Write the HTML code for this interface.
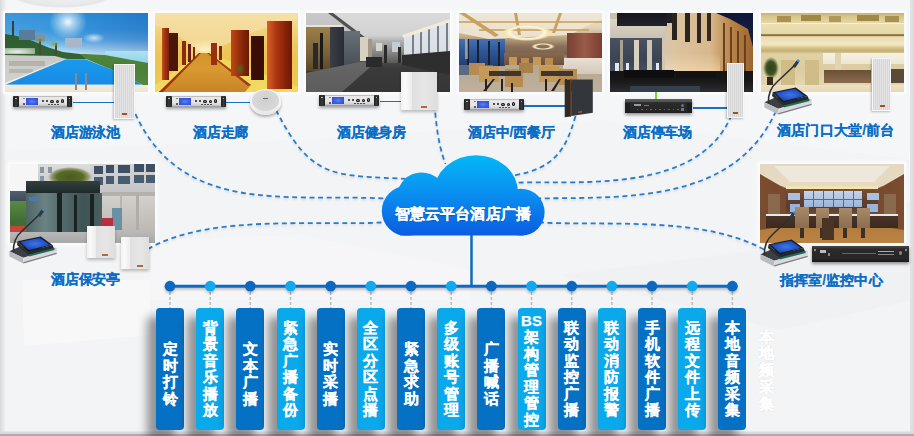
<!DOCTYPE html>
<html><head><meta charset="utf-8">
<style>
*{margin:0;padding:0;box-sizing:border-box}
html,body{width:914px;height:436px;overflow:hidden}
body{position:relative;background:#f3f4f6;font-family:"Liberation Sans",sans-serif}
.a{position:absolute}
i{position:absolute;display:block}
.ph{position:absolute;overflow:hidden;box-shadow:0 0 0 2px #fbfbfc,0 0 4px 2px rgba(255,255,255,.8)}
.amp{position:absolute;background:linear-gradient(#9a9a9a,#e8e8e8 10%,#e4e4e4 60%,#cfcfcf 85%,#8a8a8a);box-shadow:0 2px 3px rgba(0,0,0,.35)}
.cspk{position:absolute;background:repeating-linear-gradient(90deg,#d6d6d6 0 1px,#e4e4e4 1px 2px);border:1.5px solid #f6f6f6;box-shadow:-1px 1px 2px rgba(0,0,0,.25)}
.bspk{position:absolute;box-shadow:0 2px 3px rgba(0,0,0,.25)}
.lbl{position:absolute;font-weight:bold;font-size:14px;line-height:14px;color:#0b6ec6;white-space:nowrap;letter-spacing:-0.2px;-webkit-text-stroke:0.15px #0b6ec6}
.box{position:absolute;top:308px;width:28px;height:121.5px;border-radius:4px;color:#fff;font-weight:bold;font-size:15px;line-height:16.5px;text-align:center;-webkit-text-stroke:0.25px #fff;box-shadow:-9px 9px 10px rgba(0,0,0,.4)}
.box div{position:absolute;left:0;width:100%}
.d{background:#0571c4}
.l{background:#0aa9ec}
</style></head><body>
<svg class="a" style="left:0;top:0" width="914" height="436" viewBox="0 0 914 436">
<defs><linearGradient id="lg" x1="0" x2="1" y1="0" y2="0"><stop offset="0" stop-color="#d8d9dc"/><stop offset="1" stop-color="#f3f4f6"/></linearGradient></defs>
<rect width="914" height="436" fill="#f3f4f6"/>
<polygon points="0,0 914,0 914,160 600,120 300,140 0,150" fill="#f5f6f8"/>
<polygon points="22,280 150,280 150,335 24,346" fill="#f8f8f9"/>
<polygon points="150,240 300,235 470,270 470,300 150,300" fill="#f6f6f8"/>
<polygon points="560,275 760,250 914,200 914,300 780,330" fill="#f0f1f3"/>
<radialGradient id="tl" cx=".5" cy=".5" r=".5"><stop offset="0" stop-color="#000" stop-opacity=".02"/><stop offset=".75" stop-color="#000" stop-opacity=".05"/><stop offset=".9" stop-color="#000" stop-opacity=".07"/><stop offset="1" stop-color="#000" stop-opacity="0"/></radialGradient><ellipse cx="62" cy="-6" rx="52" ry="14" fill="url(#tl)"/>
<rect x="0" y="0" width="6" height="436" fill="url(#lg)"/>
<rect x="910" y="0" width="4" height="436" fill="#e2e3e6"/><rect x="911.5" y="0" width="2.5" height="436" fill="#dcdde0"/>
<rect x="0" y="431.5" width="914" height="2.5" fill="#dadadc"/>
<rect x="0" y="434" width="914" height="2" fill="#acacae"/>
</svg>
<div class="ph" id="p1" style="left:5px;top:13px;width:143px;height:79px"><i style="left:0px;top:0px;width:143px;height:79px;background:linear-gradient(180deg,#2c8ed8 0%,#3898dc 22%,#5aa8e2 34%,#94caee 44%,#cce6f4 52%);"></i><i style="left:0px;top:0px;width:143px;height:45px;background:linear-gradient(90deg,rgba(255,255,255,.08),rgba(255,255,255,0) 40%,rgba(0,50,150,.22));"></i><i style="left:44px;top:-8px;width:38px;height:34px;background:radial-gradient(closest-side,rgba(255,255,255,.95),rgba(255,255,255,.6) 30%,rgba(255,255,255,0));"></i><i style="left:78px;top:20px;width:22px;height:10px;background:radial-gradient(closest-side,rgba(255,255,255,.7),rgba(255,255,255,0));"></i><i style="left:100px;top:38px;width:43px;height:20px;background:linear-gradient(#b0e0f0,#7ccce6);"></i><i style="left:0;top:0;width:100%;height:100%;background:linear-gradient(#2a5a2c,#3a6a38);clip-path:polygon(0px 21px,12px 23px,28px 28px,42px 34px,58px 39px,75px 41px,90px 42px,90px 46px,0px 46px);"></i><i style="left:14px;top:17px;width:16px;height:10px;background:#5a7c9c;"></i><i style="left:30px;top:20px;width:10px;height:8px;background:#7a94ac;"></i><i style="left:60px;top:25px;width:17px;height:9px;background:#a8b8c8;"></i><i style="left:7px;top:8px;width:2px;height:15px;background:#3a4030;"></i><i style="left:34px;top:26px;width:2px;height:20px;background:#4a4a30;"></i><i style="left:50px;top:30px;width:2px;height:14px;background:#4a4a30;"></i><i style="left:30px;top:24px;width:10px;height:6px;background:radial-gradient(closest-side,#7a9a40,rgba(120,150,60,0));"></i><i style="left:44px;top:28px;width:10px;height:6px;background:radial-gradient(closest-side,#8aaa40,rgba(120,150,60,0));"></i><i style="left:0;top:0;width:100%;height:100%;background:linear-gradient(#5a9448,#4a8038 70%,#5a8a40);clip-path:polygon(75px 41px,100px 42px,143px 50px,143px 78px,137px 71.5px,110px 58px,81px 46px);"></i><i style="left:0;top:0;width:100%;height:100%;background:linear-gradient(#e4e4e0,#c8c8c4 50%,#d4d4d0);clip-path:polygon(0px 42px,50px 43px,61px 46px,0px 70px);"></i><i style="left:0px;top:35px;width:30px;height:6px;background:radial-gradient(ellipse at 40% 60%,rgba(248,248,244,.95),rgba(240,240,236,.4));"></i><i style="left:4px;top:48px;width:36px;height:5px;background:rgba(150,150,140,.45);"></i><i style="left:4px;top:56px;width:24px;height:4px;background:rgba(150,150,140,.4);"></i><i style="left:0;top:0;width:100%;height:100%;background:#f2f0ea;clip-path:polygon(61px 45.5px,62px 46.5px,1px 71.5px,0px 70px);"></i><i style="left:0;top:0;width:100%;height:100%;background:linear-gradient(#2eb2f6,#1ca2f0 40%,#1890e8 80%,#1a84dc);clip-path:polygon(60.6px 46.2px,80.3px 46.2px,110px 58px,137px 71.5px,1px 71.5px);"></i><i style="left:0px;top:71.5px;width:143px;height:8px;background:linear-gradient(#f2ece0,#ebe3d2);"></i><i style="left:70px;top:60px;width:1.6px;height:17px;background:#8a8a8a;"></i><i style="left:80px;top:60px;width:1.6px;height:17px;background:#8a8a8a;"></i></div><div class="ph" id="p2" style="left:155px;top:13px;width:143px;height:79px"><i style="left:0px;top:0px;width:143px;height:79px;background:linear-gradient(180deg,#f4dc98 0%,#f2d47c 20%,#eec860 40%,#ecc450 60%,#f0cc48 100%);"></i><i style="left:0;top:0;width:100%;height:100%;background:linear-gradient(#f6e0a4,#f2d490 50%,#eecc80);clip-path:polygon(0px 0px,143px 0px,143px 6px,100px 18px,56px 38px,44px 38px,20px 20px,0px 12px);"></i><i style="left:30px;top:26px;width:40px;height:22px;background:radial-gradient(closest-side,rgba(255,245,200,.9),rgba(255,240,190,0));"></i><i style="left:0;top:0;width:100%;height:100%;background:linear-gradient(#f0d050,#f2da60);clip-path:polygon(54px 40px,143px 74px,143px 79px,0px 79px,0px 72px,44px 40px);"></i><i style="left:0;top:0;width:100%;height:100%;background:linear-gradient(#c88020,#d09028 40%,#d89a30 70%,#c88428);clip-path:polygon(44px 40px,54px 40px,96px 72px,90px 79px,4px 79px);"></i><i style="left:0;top:0;width:100%;height:100%;background:#a03010;clip-path:polygon(44px 40px,46px 40px,8px 79px,4px 79px);"></i><i style="left:0;top:0;width:100%;height:100%;background:#a83818;clip-path:polygon(52px 40px,54px 40px,96px 72px,93px 73px);"></i><i style="left:7px;top:15px;width:7px;height:52px;background:linear-gradient(90deg,#c85020,#9a3010 50%,#7a2008);"></i><i style="left:14px;top:20px;width:9px;height:38px;background:#4a160a;"></i><i style="left:27px;top:28px;width:4px;height:24px;background:#8a2a10;"></i><i style="left:33px;top:31px;width:3px;height:18px;background:#6a2010;"></i><i style="left:38px;top:34px;width:2px;height:12px;background:#7a2810;"></i><i style="left:56px;top:30px;width:6px;height:22px;background:#9a3010;"></i><i style="left:64px;top:33px;width:3px;height:14px;background:#7a2810;"></i><i style="left:76px;top:17px;width:18px;height:46px;background:linear-gradient(90deg,#c04818,#8a2808 60%,#6a1a06);"></i><i style="left:96px;top:23px;width:13px;height:44px;background:#3a0e06;"></i><i style="left:112px;top:8px;width:25px;height:68px;background:linear-gradient(90deg,#d86028,#b03812 35%,#8a2408 70%,#6a1806);"></i><i style="left:80px;top:50px;width:10px;height:12px;background:radial-gradient(closest-side,#4a6a20,rgba(74,106,32,0));"></i></div><div class="ph" id="p3" style="left:306px;top:13px;width:144px;height:79px"><i style="left:0px;top:0px;width:144px;height:79px;background:linear-gradient(180deg,#dadada 0%,#d2d2d2 28%,#b0b0b0 36%,#8c8c8c 50%,#4a4a4a 61%,#3a3a3a 70%,#363636 100%);"></i><i style="left:0;top:0;width:100%;height:100%;background:linear-gradient(#c8c8c8,#b0b0b0);clip-path:polygon(0px 0px,24px 0px,56px 26px,40px 26px,0px 14px);"></i><i style="left:0;top:0;width:100%;height:100%;background:#505050;clip-path:polygon(22px 0px,27px 0px,60px 25px,56px 26px);"></i><i style="left:0px;top:12px;width:36px;height:2px;background:#e8e4d8;"></i><i style="left:0px;top:14px;width:24px;height:44px;background:linear-gradient(#9a8048,#7a6238 60%,#5a4828);"></i><i style="left:24px;top:14px;width:14px;height:46px;background:linear-gradient(90deg,#3a3e44,#2a2e34);"></i><i style="left:38px;top:18px;width:16px;height:34px;background:linear-gradient(#6a7078,#4a5058);"></i><i style="left:54px;top:24px;width:8px;height:24px;background:#d8d0c0;"></i><i style="left:62px;top:26px;width:4px;height:20px;background:#a09888;"></i><i style="left:66px;top:27px;width:34px;height:23px;background:linear-gradient(#b4b4b4,#8a8a8a 50%,#5a5a5a);"></i><i style="left:70px;top:30px;width:6px;height:8px;background:#d8d4c8;"></i><i style="left:86px;top:29px;width:8px;height:10px;background:#c8ccd0;"></i><i style="left:78px;top:32px;width:3px;height:18px;background:#2a2a2a;"></i><i style="left:92px;top:34px;width:3px;height:16px;background:#2a2a2a;"></i><i style="left:0;top:0;width:100%;height:100%;background:linear-gradient(#e4e8ee,#d0d6de);clip-path:polygon(98px 24px,144px 8px,144px 50px,98px 48px);"></i><i style="left:106px;top:20px;width:1.5px;height:30px;background:#7a808a;"></i><i style="left:114px;top:18px;width:1.5px;height:32px;background:#7a808a;"></i><i style="left:122px;top:15px;width:1.5px;height:35px;background:#7a808a;"></i><i style="left:131px;top:12px;width:1.5px;height:38px;background:#7a808a;"></i><i style="left:140px;top:10px;width:1.5px;height:40px;background:#7a808a;"></i><i style="left:0;top:0;width:100%;height:100%;background:#f0ecd8;clip-path:polygon(96px 22px,144px 6px,144px 9px,98px 25px);"></i><i style="left:0;top:0;width:100%;height:100%;background:linear-gradient(#2a2a2a,#303030);clip-path:polygon(96px 42px,144px 38px,144px 62px,96px 52px);"></i><i style="left:0;top:0;width:100%;height:100%;background:linear-gradient(#787878,#5c5c5c);clip-path:polygon(0px 60px,54px 49px,70px 49px,36px 79px,0px 79px);"></i><i style="left:14px;top:20px;width:3px;height:36px;background:#1a1a1a;"></i><i style="left:7px;top:30px;width:5px;height:26px;background:#2a2a2a;"></i><i style="left:60px;top:44px;width:16px;height:10px;background:#2a2a2a;"></i></div><div class="ph" id="p4" style="left:459px;top:13px;width:143px;height:79px"><i style="left:0px;top:0px;width:143px;height:79px;background:linear-gradient(180deg,#ece2cc 0%,#e2d4b8 18%,#c4ac88 30%,#8a7058 42%,#7a6450 52%,#b4a690 60%,#beb09c 100%);"></i><i style="left:0;top:0;width:100%;height:100%;background:linear-gradient(#eee6d6,#e4d6bc);clip-path:polygon(0px 0px,143px 0px,143px 6px,110px 22px,30px 26px,0px 20px);"></i><i style="left:0;top:0;width:100%;height:100%;background:#c8a060;clip-path:polygon(0px 0px,6px 0px,40px 22px,36px 24px);"></i><i style="left:0;top:0;width:100%;height:100%;background:#c8a060;clip-path:polygon(55px 0px,58px 0px,62px 22px,59px 22px);"></i><i style="left:0;top:0;width:100%;height:100%;background:#c8a060;clip-path:polygon(100px 0px,103px 0px,96px 20px,93px 20px);"></i><i style="left:0px;top:8px;width:143px;height:1.5px;background:rgba(200,160,96,.8);"></i><i style="left:20px;top:16px;width:110px;height:1.5px;background:rgba(200,160,96,.8);"></i><i style="left:43px;top:11px;width:50px;height:17px;background:radial-gradient(closest-side,rgba(90,70,50,.0) 55%,#fff6d8 72%,#f4e4b0 85%,rgba(240,220,170,0));"></i><i style="left:72px;top:30px;width:24px;height:7px;background:radial-gradient(closest-side,rgba(90,70,50,0) 45%,#fff0c8 70%,rgba(240,220,170,0));"></i><i style="left:0px;top:26px;width:46px;height:27px;background:linear-gradient(#4272b8,#2c5494 50%,#243e70);"></i><i style="left:8px;top:26px;width:2px;height:27px;background:#1a2030;"></i><i style="left:18px;top:27px;width:2px;height:26px;background:#1a2030;"></i><i style="left:29px;top:28px;width:2px;height:25px;background:#1a2030;"></i><i style="left:39px;top:29px;width:2px;height:24px;background:#1a2030;"></i><i style="left:6px;top:26px;width:3px;height:20px;background:rgba(255,220,160,.5);"></i><i style="left:108px;top:20px;width:35px;height:26px;background:linear-gradient(90deg,#7a4032,#9a5a48 50%,#7a3e30);"></i><i style="left:104px;top:45px;width:39px;height:16px;background:linear-gradient(#e8e0d4,#d4c8b8);"></i><i style="left:0px;top:52px;width:34px;height:10px;background:#5a6a84;"></i><i style="left:45px;top:40px;width:60px;height:12px;background:linear-gradient(#8a6a4a,#6a5040);"></i><i style="left:50px;top:44px;width:8px;height:8px;background:#c49a5a;"></i><i style="left:62px;top:45px;width:8px;height:7px;background:#b88c50;"></i><i style="left:74px;top:44px;width:8px;height:8px;background:#c49a5a;"></i><i style="left:86px;top:45px;width:8px;height:7px;background:#b88c50;"></i><i style="left:10px;top:50px;width:16px;height:12px;background:#b88c50;"></i><i style="left:20px;top:53px;width:20px;height:16px;background:#c49a5a;"></i><i style="left:46px;top:56px;width:18px;height:18px;background:#b88c50;"></i><i style="left:80px;top:53px;width:20px;height:16px;background:#c49a5a;"></i><i style="left:100px;top:56px;width:18px;height:16px;background:#b88c50;"></i><i style="left:60px;top:50px;width:14px;height:10px;background:#a8804a;"></i><i style="left:30px;top:58px;width:32px;height:5px;background:#3e3630;"></i><i style="left:82px;top:58px;width:32px;height:5px;background:#3e3630;"></i><i style="left:26px;top:66px;width:2px;height:12px;background:#2a2018;"></i><i style="left:42px;top:66px;width:2px;height:12px;background:#2a2018;"></i><i style="left:52px;top:70px;width:2px;height:9px;background:#2a2018;"></i><i style="left:86px;top:66px;width:2px;height:12px;background:#2a2018;"></i><i style="left:106px;top:66px;width:2px;height:12px;background:#2a2018;"></i><i style="left:112px;top:70px;width:2px;height:8px;background:#2a2018;"></i><i style="left:0;top:0;width:100%;height:100%;background:#2a2018;clip-path:polygon(24px 78px,34px 66px,36px 66px,27px 78px);"></i><i style="left:0;top:0;width:100%;height:100%;background:#2a2018;clip-path:polygon(92px 78px,100px 66px,102px 66px,95px 78px);"></i></div><div class="ph" id="p5" style="left:610px;top:13px;width:143px;height:79px"><i style="left:0px;top:0px;width:143px;height:79px;background:#2a2828;"></i><i style="left:0px;top:0px;width:143px;height:60px;background:linear-gradient(90deg,#c8c0b0 0%,#d0c6b4 35%,#dcc4a0 45%,#d8b88c 70%,#b88448 85%,#9a6630 100%);"></i><i style="left:0px;top:6px;width:55px;height:20px;background:linear-gradient(#dcd6c8,#c8c0b0);"></i><i style="left:7px;top:0px;width:50px;height:13px;background:linear-gradient(#16161e,#22222a);"></i><i style="left:57px;top:0px;width:6px;height:10px;background:#1e1e26;"></i><i style="left:0px;top:25px;width:52px;height:35px;background:linear-gradient(#4a5262,#3a4452 60%,#4a5060);"></i><i style="left:24px;top:27px;width:5px;height:33px;background:#d8d0c0;"></i><i style="left:37px;top:27px;width:5px;height:33px;background:#ccc4b4;"></i><i style="left:10px;top:27px;width:3px;height:33px;background:#a8a090;"></i><i style="left:5px;top:50px;width:4px;height:8px;background:#e0e8f0;"></i><i style="left:16px;top:50px;width:3px;height:8px;background:#e0e8f0;"></i><i style="left:46px;top:50px;width:3px;height:8px;background:#e0e8f0;"></i><i style="left:62px;top:0px;width:5px;height:27px;background:#2a2420;"></i><i style="left:75px;top:0px;width:5px;height:29px;background:#2a2420;"></i><i style="left:87px;top:0px;width:4px;height:30px;background:#2e2620;"></i><i style="left:97px;top:0px;width:4px;height:28px;background:#342820;"></i><i style="left:55px;top:40px;width:55px;height:20px;background:linear-gradient(rgba(255,235,200,0),rgba(255,230,190,.5));"></i><i style="left:113px;top:10px;width:1.5px;height:50px;background:#6a4020;"></i><i style="left:120px;top:14px;width:1.5px;height:46px;background:#6a4020;"></i><i style="left:127px;top:18px;width:1.5px;height:42px;background:#6a4020;"></i><i style="left:134px;top:22px;width:1.5px;height:38px;background:#6a4020;"></i><i style="left:0;top:0;width:100%;height:100%;background:linear-gradient(#101838,#1a2458);clip-path:polygon(106px 0px,143px 0px,143px 34px,138px 16px,120px 6px);"></i><i style="left:0px;top:58px;width:143px;height:21px;background:linear-gradient(#141414,#181818 45%,#2c2c32);"></i><i style="left:14px;top:57px;width:50px;height:8px;background:#0e0e0e;"></i><i style="left:66px;top:58px;width:40px;height:7px;background:#121212;"></i><i style="left:20px;top:73px;width:70px;height:6px;background:#34404c;"></i></div><div class="ph" id="p6" style="left:761px;top:13px;width:143px;height:79px"><i style="left:0px;top:0px;width:143px;height:79px;background:linear-gradient(180deg,#c8b070 0%,#d8c488 4%,#e6d6a4 12%,#ece0b4 15%,#e6d6a6 26%,#8a7040 27.5%,#8a7040 28.5%,#ecdcb0 30%,#f2e6c2 40%,#d8c48c 44%,#c4b074 48%,#e0d2a4 52%,#dccca0 70%,#e6dab6 100%);"></i><i style="left:16px;top:3px;width:14px;height:6px;background:#a89050;"></i><i style="left:40px;top:2px;width:20px;height:6px;background:#a08848;"></i><i style="left:68px;top:3px;width:12px;height:6px;background:#b09858;"></i><i style="left:96px;top:2px;width:22px;height:6px;background:#a08848;"></i><i style="left:124px;top:3px;width:14px;height:6px;background:#a89050;"></i><i style="left:0px;top:10px;width:143px;height:1px;background:rgba(255,250,230,.7);"></i><i style="left:62px;top:40px;width:81px;height:11px;background:linear-gradient(#f6f2e6,#ece6d2);"></i><i style="left:74px;top:40px;width:6px;height:30px;background:#e0d4b4;"></i><i style="left:63px;top:57px;width:47px;height:13px;background:linear-gradient(#6a5038,#8a6c4c);"></i><i style="left:118px;top:56px;width:25px;height:14px;background:#5a4a38;"></i><i style="left:20px;top:47px;width:14px;height:27px;background:#d0bc88;"></i><i style="left:44px;top:47px;width:14px;height:27px;background:#d0bc88;"></i><i style="left:2px;top:44px;width:16px;height:22px;background:radial-gradient(closest-side,#2e4018,#3e5424 60%,rgba(70,90,40,0));"></i><i style="left:6px;top:64px;width:6px;height:8px;background:#3a2a1a;"></i><i style="left:0px;top:72px;width:143px;height:7px;background:linear-gradient(#ece2c4,#e4d8b4);"></i></div><div class="ph" id="p7" style="left:10px;top:164px;width:145px;height:79px"><i style="left:0px;top:0px;width:145px;height:79px;background:linear-gradient(180deg,#d4d4d4 0%,#cacac8 40%,#bcbab6 70%,#aaaaaa 100%);"></i><i style="left:0px;top:0px;width:28px;height:27px;background:#f6f6f6;"></i><i style="left:0px;top:27px;width:16px;height:11px;background:linear-gradient(#506070,#3a4a58);"></i><i style="left:0px;top:37px;width:16px;height:30px;background:linear-gradient(#5a8a44,#3e6c32 70%,#4a6a30);"></i><i style="left:0px;top:62px;width:16px;height:6px;background:#c04838;"></i><i style="left:28px;top:0px;width:54px;height:22px;background:linear-gradient(#dcdcdc,#cccccc);"></i><i style="left:30px;top:3px;width:4px;height:6px;background:#8a96a4;"></i><i style="left:38px;top:3px;width:4px;height:6px;background:#8a96a4;"></i><i style="left:30px;top:12px;width:4px;height:6px;background:#8a96a4;"></i><i style="left:80px;top:0px;width:65px;height:30px;background:linear-gradient(#d4d4d4,#c4c4c4);"></i><i style="left:84px;top:2px;width:9px;height:8px;background:#3e5064;"></i><i style="left:96px;top:1px;width:8px;height:8px;background:#3e5064;"></i><i style="left:108px;top:1px;width:12px;height:8px;background:#3e5064;"></i><i style="left:124px;top:0px;width:10px;height:8px;background:#3e5064;"></i><i style="left:136px;top:0px;width:9px;height:8px;background:#3e5064;"></i><i style="left:84px;top:13px;width:9px;height:8px;background:#4a5c70;"></i><i style="left:96px;top:12px;width:8px;height:8px;background:#4a5c70;"></i><i style="left:108px;top:12px;width:12px;height:8px;background:#4a5c70;"></i><i style="left:124px;top:11px;width:10px;height:8px;background:#4a5c70;"></i><i style="left:136px;top:11px;width:9px;height:8px;background:#4a5c70;"></i><i style="left:38px;top:3px;width:44px;height:20px;background:radial-gradient(closest-side,#4a5a20,#5a6a28 60%,rgba(106,122,52,.6) 85%,rgba(106,122,52,0));"></i><i style="left:16px;top:17px;width:74px;height:12px;background:linear-gradient(#34403e,#1e2a2a);"></i><i style="left:16px;top:29px;width:76px;height:46px;background:linear-gradient(90deg,#4e6666,#6a8282 25%,#52686a 50%,#3e5454 75%,#4a5e5e);"></i><i style="left:19px;top:33px;width:10px;height:4px;background:#4a7ab0;"></i><i style="left:47px;top:29px;width:5px;height:47px;background:#1a2222;"></i><i style="left:64px;top:31px;width:3px;height:44px;background:#1a2222;"></i><i style="left:80px;top:30px;width:4px;height:45px;background:#1a2222;"></i><i style="left:92px;top:28px;width:53px;height:40px;background:linear-gradient(#d6d2ce,#c6c2be 60%,#bcb8b4);"></i><i style="left:92px;top:28px;width:53px;height:4px;background:#b4b0ac;"></i><i style="left:126px;top:30px;width:3px;height:36px;background:#b0aca8;"></i><i style="left:110px;top:30px;width:2px;height:36px;background:#b8b4b0;"></i><i style="left:102px;top:44px;width:10px;height:22px;background:#6892a4;"></i><i style="left:91px;top:54px;width:12px;height:8px;background:#b83040;"></i><i style="left:0px;top:68px;width:145px;height:11px;background:linear-gradient(#b8b8b8,#a8a8a8);"></i></div><div class="ph" id="p8" style="left:760px;top:164px;width:144px;height:79px"><i style="left:0px;top:0px;width:144px;height:79px;background:linear-gradient(180deg,#e6d8bc 0%,#eadcc0 20%,#f0dca4 27%,#7a5036 31%,#64402c 45%,#5a3c2c 55%,#6a4a30 62%,#b07838 70%,#bc8444 100%);"></i><i style="left:0;top:0;width:100%;height:100%;background:linear-gradient(#e4d8c0,#ece0c8);clip-path:polygon(0px 0px,144px 0px,144px 8px,118px 24px,26px 24px,0px 8px);"></i><i style="left:0;top:0;width:100%;height:100%;background:#eee8dc;clip-path:polygon(14px 2px,130px 2px,114px 18px,30px 18px);"></i><i style="left:0;top:0;width:100%;height:100%;background:#f4e4b0;clip-path:polygon(26px 22px,118px 22px,118px 25px,26px 25px);"></i><i style="left:0;top:0;width:100%;height:100%;background:linear-gradient(90deg,#7a4c30,#6a4028);clip-path:polygon(0px 10px,26px 25px,26px 62px,0px 66px);"></i><i style="left:0;top:0;width:100%;height:100%;background:linear-gradient(270deg,#7a4c30,#6a4028);clip-path:polygon(144px 10px,118px 25px,118px 62px,144px 66px);"></i><i style="left:8px;top:30px;width:12px;height:20px;background:#8a6a4c;"></i><i style="left:124px;top:30px;width:12px;height:20px;background:#8a6a4c;"></i><i style="left:44px;top:27px;width:58px;height:16px;background:linear-gradient(#c4d4ea,#9cb4d8);"></i><i style="left:53px;top:27px;width:1px;height:16px;background:#5a6a80;"></i><i style="left:63px;top:27px;width:1px;height:16px;background:#5a6a80;"></i><i style="left:73px;top:27px;width:1px;height:16px;background:#5a6a80;"></i><i style="left:83px;top:27px;width:1px;height:16px;background:#5a6a80;"></i><i style="left:93px;top:27px;width:1px;height:16px;background:#5a6a80;"></i><i style="left:44px;top:35px;width:58px;height:1px;background:#5a6a80;"></i><i style="left:28px;top:29px;width:12px;height:7px;background:#a8c0e0;"></i><i style="left:30px;top:40px;width:10px;height:8px;background:#98b4dc;"></i><i style="left:107px;top:29px;width:12px;height:7px;background:#a8c0e0;"></i><i style="left:107px;top:40px;width:11px;height:8px;background:#98b4dc;"></i><i style="left:6px;top:50px;width:132px;height:2px;background:#e8e8e8;"></i><i style="left:6px;top:52px;width:132px;height:12px;background:linear-gradient(#4a3426,#3a2a20);"></i><i style="left:35px;top:43px;width:14px;height:21px;background:linear-gradient(#a88a68,#8a6c50);"></i><i style="left:56px;top:44px;width:13px;height:20px;background:linear-gradient(#a88a68,#8a6c50);"></i><i style="left:79px;top:44px;width:13px;height:20px;background:linear-gradient(#a88a68,#8a6c50);"></i><i style="left:97px;top:44px;width:13px;height:20px;background:linear-gradient(#a88a68,#8a6c50);"></i><i style="left:40px;top:64px;width:4px;height:10px;background:#3a3028;"></i><i style="left:60px;top:64px;width:4px;height:10px;background:#3a3028;"></i><i style="left:83px;top:64px;width:4px;height:10px;background:#3a3028;"></i><i style="left:101px;top:64px;width:4px;height:10px;background:#3a3028;"></i><i style="left:62px;top:54px;width:12px;height:22px;background:#4a3424;"></i></div>
<svg class="a" style="left:0;top:0" width="914" height="436" viewBox="0 0 914 436"><defs><filter id="ls" x="-5%" y="-5%" width="110%" height="110%"><feDropShadow dx="0" dy="1.5" stdDeviation="1" flood-color="#000" flood-opacity=".12"/></filter></defs><g fill="none" stroke="#2a7cc8" stroke-width="1.8" stroke-dasharray="5 3.6" filter="url(#ls)">
<path d="M132.0 106.0 C176.5 216.9 286.3 193.5 384.0 198.5"/>
<path d="M276.0 110.0 C311.6 179.8 332.1 175.0 409.0 179.0"/>
<path d="M434.4 104.0 C436.3 124.7 438.1 144.4 445.5 164.0"/>
<path d="M148.0 249.0 C208.3 213.9 316.1 226.1 383.0 222.4"/>
<path d="M575.5 116.0 C565.2 152.5 553.1 168.1 514.0 175.5"/>
<path d="M731.5 115.0 C699.6 192.7 584.1 181.1 518.0 182.6"/>
<path d="M776.0 111.0 C733.8 204.6 622.3 196.9 536.0 198.5"/>
<path d="M764.0 249.5 C701.5 215.8 608.1 226.0 540.0 222.5"/>
</g></svg>
<div class="amp" style="left:13px;top:96px;width:59px;height:11px">
<i style="left:0;top:0;width:5.5px;height:11px;background:linear-gradient(90deg,#1e1e1e,#3a3a3a 50%,#1e1e1e);border-radius:1px"></i>
<i style="right:0;top:0;width:5.5px;height:11px;background:linear-gradient(90deg,#1e1e1e,#3a3a3a 50%,#1e1e1e);border-radius:1px"></i>
<i style="left:2px;top:1.5px;width:1.5px;height:1.5px;background:#ccc;border-radius:50%"></i>
<i style="right:2px;top:1.5px;width:1.5px;height:1.5px;background:#ccc;border-radius:50%"></i>
<i style="left:13px;top:2px;width:12px;height:6.5px;background:radial-gradient(ellipse at 50% 50%,#5a80f0,#3a5ee6 50%,#2a4ad0)"></i>
<i style="left:9.5px;top:2px;width:2px;height:1px;background:#888"></i>
<i style="left:9.5px;top:7px;width:2px;height:2px;background:#333;border-radius:50%"></i>
<i style="left:28.8px;top:4.0px;width:2.4px;height:2.4px;border-radius:50%;background:radial-gradient(circle,#777 0 25%,#1a1a1a 45%)"></i><i style="left:32.8px;top:4.0px;width:2.4px;height:2.4px;border-radius:50%;background:radial-gradient(circle,#777 0 25%,#1a1a1a 45%)"></i><i style="left:37.4px;top:3.6px;width:3.2px;height:3.2px;border-radius:50%;background:radial-gradient(circle,#777 0 25%,#1a1a1a 45%)"></i><i style="left:42.9px;top:3.6px;width:3.2px;height:3.2px;border-radius:50%;background:radial-gradient(circle,#777 0 25%,#1a1a1a 45%)"></i><i style="left:47.8px;top:3.4px;width:3.6px;height:3.6px;border-radius:50%;background:radial-gradient(circle,#777 0 25%,#1a1a1a 45%)"></i>
<i style="left:35.0px;top:7.8px;width:2px;height:1.6px;border-radius:50%;background:#333"></i><i style="left:38.0px;top:7.8px;width:2px;height:1.6px;border-radius:50%;background:#333"></i><i style="left:41.0px;top:7.8px;width:2px;height:1.6px;border-radius:50%;background:#333"></i><i style="left:44.0px;top:7.8px;width:2px;height:1.6px;border-radius:50%;background:#333"></i>
</div>
<div class="amp" style="left:166px;top:96px;width:60px;height:11px">
<i style="left:0;top:0;width:5.5px;height:11px;background:linear-gradient(90deg,#1e1e1e,#3a3a3a 50%,#1e1e1e);border-radius:1px"></i>
<i style="right:0;top:0;width:5.5px;height:11px;background:linear-gradient(90deg,#1e1e1e,#3a3a3a 50%,#1e1e1e);border-radius:1px"></i>
<i style="left:2px;top:1.5px;width:1.5px;height:1.5px;background:#ccc;border-radius:50%"></i>
<i style="right:2px;top:1.5px;width:1.5px;height:1.5px;background:#ccc;border-radius:50%"></i>
<i style="left:13px;top:2px;width:12px;height:6.5px;background:radial-gradient(ellipse at 50% 50%,#5a80f0,#3a5ee6 50%,#2a4ad0)"></i>
<i style="left:9.5px;top:2px;width:2px;height:1px;background:#888"></i>
<i style="left:9.5px;top:7px;width:2px;height:2px;background:#333;border-radius:50%"></i>
<i style="left:28.8px;top:4.0px;width:2.4px;height:2.4px;border-radius:50%;background:radial-gradient(circle,#777 0 25%,#1a1a1a 45%)"></i><i style="left:32.8px;top:4.0px;width:2.4px;height:2.4px;border-radius:50%;background:radial-gradient(circle,#777 0 25%,#1a1a1a 45%)"></i><i style="left:37.4px;top:3.6px;width:3.2px;height:3.2px;border-radius:50%;background:radial-gradient(circle,#777 0 25%,#1a1a1a 45%)"></i><i style="left:42.9px;top:3.6px;width:3.2px;height:3.2px;border-radius:50%;background:radial-gradient(circle,#777 0 25%,#1a1a1a 45%)"></i><i style="left:47.8px;top:3.4px;width:3.6px;height:3.6px;border-radius:50%;background:radial-gradient(circle,#777 0 25%,#1a1a1a 45%)"></i>
<i style="left:35.0px;top:7.8px;width:2px;height:1.6px;border-radius:50%;background:#333"></i><i style="left:38.0px;top:7.8px;width:2px;height:1.6px;border-radius:50%;background:#333"></i><i style="left:41.0px;top:7.8px;width:2px;height:1.6px;border-radius:50%;background:#333"></i><i style="left:44.0px;top:7.8px;width:2px;height:1.6px;border-radius:50%;background:#333"></i>
</div>
<div class="amp" style="left:319px;top:95px;width:60px;height:11px">
<i style="left:0;top:0;width:5.5px;height:11px;background:linear-gradient(90deg,#1e1e1e,#3a3a3a 50%,#1e1e1e);border-radius:1px"></i>
<i style="right:0;top:0;width:5.5px;height:11px;background:linear-gradient(90deg,#1e1e1e,#3a3a3a 50%,#1e1e1e);border-radius:1px"></i>
<i style="left:2px;top:1.5px;width:1.5px;height:1.5px;background:#ccc;border-radius:50%"></i>
<i style="right:2px;top:1.5px;width:1.5px;height:1.5px;background:#ccc;border-radius:50%"></i>
<i style="left:13px;top:2px;width:12px;height:6.5px;background:radial-gradient(ellipse at 50% 50%,#5a80f0,#3a5ee6 50%,#2a4ad0)"></i>
<i style="left:9.5px;top:2px;width:2px;height:1px;background:#888"></i>
<i style="left:9.5px;top:7px;width:2px;height:2px;background:#333;border-radius:50%"></i>
<i style="left:28.8px;top:4.0px;width:2.4px;height:2.4px;border-radius:50%;background:radial-gradient(circle,#777 0 25%,#1a1a1a 45%)"></i><i style="left:32.8px;top:4.0px;width:2.4px;height:2.4px;border-radius:50%;background:radial-gradient(circle,#777 0 25%,#1a1a1a 45%)"></i><i style="left:37.4px;top:3.6px;width:3.2px;height:3.2px;border-radius:50%;background:radial-gradient(circle,#777 0 25%,#1a1a1a 45%)"></i><i style="left:42.9px;top:3.6px;width:3.2px;height:3.2px;border-radius:50%;background:radial-gradient(circle,#777 0 25%,#1a1a1a 45%)"></i><i style="left:47.8px;top:3.4px;width:3.6px;height:3.6px;border-radius:50%;background:radial-gradient(circle,#777 0 25%,#1a1a1a 45%)"></i>
<i style="left:35.0px;top:7.8px;width:2px;height:1.6px;border-radius:50%;background:#333"></i><i style="left:38.0px;top:7.8px;width:2px;height:1.6px;border-radius:50%;background:#333"></i><i style="left:41.0px;top:7.8px;width:2px;height:1.6px;border-radius:50%;background:#333"></i><i style="left:44.0px;top:7.8px;width:2px;height:1.6px;border-radius:50%;background:#333"></i>
</div>
<div class="amp" style="left:464px;top:99px;width:60px;height:11px">
<i style="left:0;top:0;width:5.5px;height:11px;background:linear-gradient(90deg,#1e1e1e,#3a3a3a 50%,#1e1e1e);border-radius:1px"></i>
<i style="right:0;top:0;width:5.5px;height:11px;background:linear-gradient(90deg,#1e1e1e,#3a3a3a 50%,#1e1e1e);border-radius:1px"></i>
<i style="left:2px;top:1.5px;width:1.5px;height:1.5px;background:#ccc;border-radius:50%"></i>
<i style="right:2px;top:1.5px;width:1.5px;height:1.5px;background:#ccc;border-radius:50%"></i>
<i style="left:13px;top:2px;width:12px;height:6.5px;background:radial-gradient(ellipse at 50% 50%,#5a80f0,#3a5ee6 50%,#2a4ad0)"></i>
<i style="left:9.5px;top:2px;width:2px;height:1px;background:#888"></i>
<i style="left:9.5px;top:7px;width:2px;height:2px;background:#333;border-radius:50%"></i>
<i style="left:28.8px;top:4.0px;width:2.4px;height:2.4px;border-radius:50%;background:radial-gradient(circle,#777 0 25%,#1a1a1a 45%)"></i><i style="left:32.8px;top:4.0px;width:2.4px;height:2.4px;border-radius:50%;background:radial-gradient(circle,#777 0 25%,#1a1a1a 45%)"></i><i style="left:37.4px;top:3.6px;width:3.2px;height:3.2px;border-radius:50%;background:radial-gradient(circle,#777 0 25%,#1a1a1a 45%)"></i><i style="left:42.9px;top:3.6px;width:3.2px;height:3.2px;border-radius:50%;background:radial-gradient(circle,#777 0 25%,#1a1a1a 45%)"></i><i style="left:47.8px;top:3.4px;width:3.6px;height:3.6px;border-radius:50%;background:radial-gradient(circle,#777 0 25%,#1a1a1a 45%)"></i>
<i style="left:35.0px;top:7.8px;width:2px;height:1.6px;border-radius:50%;background:#333"></i><i style="left:38.0px;top:7.8px;width:2px;height:1.6px;border-radius:50%;background:#333"></i><i style="left:41.0px;top:7.8px;width:2px;height:1.6px;border-radius:50%;background:#333"></i><i style="left:44.0px;top:7.8px;width:2px;height:1.6px;border-radius:50%;background:#333"></i>
</div>
<div class="a" style="left:624.5px;top:99px;width:67px;height:14px;background:linear-gradient(#626262,#4a4a4a 22%,#2a2a2a 26%,#262626 85%,#1c1c1c);box-shadow:0 2px 3px rgba(0,0,0,.4)"><i style="left:0;top:3.5px;width:5px;height:10px;background:#1e1e1e"></i><i style="right:0;top:3.5px;width:5px;height:10px;background:#1e1e1e"></i><i style="left:9px;top:5px;width:7px;height:2px;background:#9a9a9a"></i><i style="left:19px;top:5.5px;width:5px;height:1px;background:#777"></i><i style="left:12px;top:9.5px;width:42px;height:1px;background:repeating-linear-gradient(90deg,#666 0 1.5px,transparent 1.5px 4.5px)"></i><i style="left:56px;top:5px;width:3px;height:3px;border-radius:50%;background:#6a6a9a"></i><i style="left:56px;top:9px;width:3px;height:3px;background:#777"></i></div>
<div class="a" style="left:655px;top:92px;width:1.5px;height:7px;background:#7ad040"></div>
<div class="a" style="left:812px;top:246px;width:97px;height:15.5px;background:linear-gradient(#4a4a4a,#2a2a2a 20%,#262626 80%,#1a1a1a);box-shadow:0 2px 3px rgba(0,0,0,.4)"><i style="left:2px;top:3px;width:2px;height:2px;background:#aaa;border-radius:50%"></i><i style="right:2px;top:3px;width:2px;height:2px;background:#aaa;border-radius:50%"></i><i style="left:8px;top:4px;width:6px;height:3px;background:#bbb"></i><i style="left:16px;top:7px;width:2px;height:3px;background:#888"></i><i style="left:30px;top:7px;width:34px;height:1px;background:#666"></i><i style="left:66px;top:5px;width:16px;height:1px;background:#aaa"></i><i style="left:66px;top:8px;width:16px;height:1px;background:#888"></i><i style="left:87px;top:5px;width:3px;height:4px;border-radius:50%;background:#888"></i></div>
<div class="a" style="left:73px;top:101.5px;width:42px;height:1.5px;background:#1a6ec4"></div>
<div class="a" style="left:226px;top:101.5px;width:26px;height:1.5px;background:#1a6ec4"></div>
<div class="a" style="left:380px;top:100.5px;width:22px;height:1.5px;background:#1a6ec4"></div>
<div class="a" style="left:524px;top:105px;width:42px;height:1.5px;background:#1a6ec4"></div>
<div class="a" style="left:693px;top:107px;width:34px;height:1.5px;background:#1a6ec4"></div>
<div class="cspk" style="left:114px;top:63.5px;width:20.5px;height:55px"><i style="left:7.2px;bottom:3px;width:5px;height:2px;background:#a0502a"></i></div>
<div class="cspk" style="left:726.5px;top:63px;width:17.5px;height:54.5px"><i style="left:5.8px;bottom:3px;width:5px;height:2px;background:#a0502a"></i></div>
<div class="cspk" style="left:872px;top:58px;width:19px;height:53px"><i style="left:6.5px;bottom:3px;width:5px;height:2px;background:#a0502a"></i></div>
<div class="bspk" style="left:400.7px;top:71.5px;width:36px;height:38px">
<i style="left:0;top:0;width:11px;height:100%;background:linear-gradient(90deg,#f2f2f2,#fafafa 40%,#ececec)"></i>
<i style="left:11px;top:0;right:0;height:100%;background:linear-gradient(90deg,#e0e0e0,#e6e6e6 50%,#dedede)"></i>
<i style="left:12.5px;top:1.5px;right:1.5px;bottom:3px;background:radial-gradient(circle,rgba(0,0,0,.07) 0 0.5px,transparent 0.7px) 0 0/2px 2px"></i>
<i style="left:20.5px;bottom:1.5px;width:6px;height:2px;background:#b06a3a"></i></div>
<div class="bspk" style="left:87px;top:226px;width:27.8px;height:31.6px">
<i style="left:0;top:0;width:9px;height:100%;background:linear-gradient(90deg,#f2f2f2,#fafafa 40%,#ececec)"></i>
<i style="left:9px;top:0;right:0;height:100%;background:linear-gradient(90deg,#e0e0e0,#e6e6e6 50%,#dedede)"></i>
<i style="left:10.5px;top:1.5px;right:1.5px;bottom:3px;background:radial-gradient(circle,rgba(0,0,0,.07) 0 0.5px,transparent 0.7px) 0 0/2px 2px"></i>
<i style="left:15.4px;bottom:1.5px;width:6px;height:2px;background:#b06a3a"></i></div>
<div class="bspk" style="left:121px;top:236.7px;width:28.4px;height:32.2px">
<i style="left:0;top:0;width:8.6px;height:100%;background:linear-gradient(90deg,#f2f2f2,#fafafa 40%,#ececec)"></i>
<i style="left:8.6px;top:0;right:0;height:100%;background:linear-gradient(90deg,#e0e0e0,#e6e6e6 50%,#dedede)"></i>
<i style="left:10.1px;top:1.5px;right:1.5px;bottom:3px;background:radial-gradient(circle,rgba(0,0,0,.07) 0 0.5px,transparent 0.7px) 0 0/2px 2px"></i>
<i style="left:15.5px;bottom:1.5px;width:6px;height:2px;background:#b06a3a"></i></div>
<div class="a" style="left:249.5px;top:88.5px;width:31.5px;height:26px;border-radius:50%;background:linear-gradient(#fafafa,#f2f2f2 70%,#e4e4e4);box-shadow:0 2px 3px rgba(0,0,0,.3)"><i style="left:2.5px;top:1.5px;width:26.5px;height:20.5px;border-radius:50%;background:radial-gradient(ellipse,#cfcfcf,#d8d8d8 70%,#e2e2e2)"></i><i style="left:13.5px;top:9px;width:5px;height:1.6px;background:#6a6450;border-radius:1px"></i></div>
<svg class="a" style="left:564px;top:79px" width="30" height="40" viewBox="0 0 30 40"><path d="M0.7 1 L7 0.5 L7 37.5 L0.7 38.3 Z" fill="#2e2a26"/><path d="M6 0.5 L7.8 0.5 L7.8 37 L6 37.5 Z" fill="#5a3a20"/><path d="M7.5 0.5 L28.8 0.5 L28.8 33.7 L7.5 37 Z" fill="#33373c"/><path d="M14 32.5 L18 32 L18 33.4 L14 34Z" fill="#a05a2a"/></svg>
<svg class="a" style="left:764px;top:55px" width="50" height="62" viewBox="0 0 50 62">
<path d="M0.4 47.2 L10 43 L47.8 44 L14.3 53.8 Z" fill="#3c4044"/>
<path d="M0.4 47.2 L14.3 53.8 L14.3 59.6 L0.4 52.6 Z" fill="#bcbcc0"/>
<path d="M14.3 53.8 L47.8 44 L47.6 50 L14.3 59.6 Z" fill="#d8d8dc"/>
<path d="M14.3 58.2 L47.6 48.8 L47.6 50 L14.3 59.6 Z" fill="#7a7a7e"/>
<path d="M4.5 48 C4 40 6 33 13 27 L30.5 10.5" stroke="#2e2e2e" stroke-width="1.6" fill="none"/>
<path d="M28.5 11 L32.5 5.5 L35 7.5 L31 13 Z" fill="#2a3a4a"/>
<path d="M32.5 5.5 L34 4 L36 6 L35 7.5 Z" fill="#3a8ad8"/>
<path d="M8.6 37.2 L19 47.6 L19.5 51 L8 41 Z" fill="#2a2e32"/>
<path d="M19 47.6 L43.5 41.1 L45 44.5 L19.5 51 Z" fill="#24282c"/>
<path d="M19.5 50.5 L45 44 L45.6 46 L20 52.5 Z" fill="#1e6a5a"/>
<path d="M8.6 37.2 L31.7 32.4 L43.5 41.1 L19 47.6 Z" fill="#16191e"/>
<path d="M11 37.8 L31 33.8 L41 41 L19.8 46 Z" fill="url(#scr)"/>
</svg>
<svg class="a" style="left:9.2px;top:204px" width="50" height="62" viewBox="0 0 50 62">
<path d="M0.4 47.2 L10 43 L47.8 44 L14.3 53.8 Z" fill="#3c4044"/>
<path d="M0.4 47.2 L14.3 53.8 L14.3 59.6 L0.4 52.6 Z" fill="#bcbcc0"/>
<path d="M14.3 53.8 L47.8 44 L47.6 50 L14.3 59.6 Z" fill="#d8d8dc"/>
<path d="M14.3 58.2 L47.6 48.8 L47.6 50 L14.3 59.6 Z" fill="#7a7a7e"/>
<path d="M4.5 48 C4 40 6 33 13 27 L30.5 10.5" stroke="#2e2e2e" stroke-width="1.6" fill="none"/>
<path d="M28.5 11 L32.5 5.5 L35 7.5 L31 13 Z" fill="#2a3a4a"/>
<path d="M32.5 5.5 L34 4 L36 6 L35 7.5 Z" fill="#3a8ad8"/>
<path d="M8.6 37.2 L19 47.6 L19.5 51 L8 41 Z" fill="#2a2e32"/>
<path d="M19 47.6 L43.5 41.1 L45 44.5 L19.5 51 Z" fill="#24282c"/>
<path d="M19.5 50.5 L45 44 L45.6 46 L20 52.5 Z" fill="#1e6a5a"/>
<path d="M8.6 37.2 L31.7 32.4 L43.5 41.1 L19 47.6 Z" fill="#16191e"/>
<path d="M11 37.8 L31 33.8 L41 41 L19.8 46 Z" fill="url(#scr)"/>
</svg>
<svg class="a" style="left:760.4px;top:207px" width="50" height="62" viewBox="0 0 50 62">
<path d="M0.4 47.2 L10 43 L47.8 44 L14.3 53.8 Z" fill="#3c4044"/>
<path d="M0.4 47.2 L14.3 53.8 L14.3 59.6 L0.4 52.6 Z" fill="#bcbcc0"/>
<path d="M14.3 53.8 L47.8 44 L47.6 50 L14.3 59.6 Z" fill="#d8d8dc"/>
<path d="M14.3 58.2 L47.6 48.8 L47.6 50 L14.3 59.6 Z" fill="#7a7a7e"/>
<path d="M4.5 48 C4 40 6 33 13 27 L30.5 10.5" stroke="#2e2e2e" stroke-width="1.6" fill="none"/>
<path d="M28.5 11 L32.5 5.5 L35 7.5 L31 13 Z" fill="#2a3a4a"/>
<path d="M32.5 5.5 L34 4 L36 6 L35 7.5 Z" fill="#3a8ad8"/>
<path d="M8.6 37.2 L19 47.6 L19.5 51 L8 41 Z" fill="#2a2e32"/>
<path d="M19 47.6 L43.5 41.1 L45 44.5 L19.5 51 Z" fill="#24282c"/>
<path d="M19.5 50.5 L45 44 L45.6 46 L20 52.5 Z" fill="#1e6a5a"/>
<path d="M8.6 37.2 L31.7 32.4 L43.5 41.1 L19 47.6 Z" fill="#16191e"/>
<path d="M11 37.8 L31 33.8 L41 41 L19.8 46 Z" fill="url(#scr)"/>
</svg>
<div class="lbl" style="left:51px;top:125px">酒店游泳池</div>
<div class="lbl" style="left:193px;top:125px">酒店走廊</div>
<div class="lbl" style="left:337px;top:125px">酒店健身房</div>
<div class="lbl" style="left:468px;top:125px">酒店中/西餐厅</div>
<div class="lbl" style="left:623px;top:125px">酒店停车场</div>
<div class="lbl" style="left:777px;top:123px;letter-spacing:0.2px">酒店门口大堂/前台</div>
<div class="lbl" style="left:51px;top:272px">酒店保安亭</div>
<div class="lbl" style="left:780px;top:273px;letter-spacing:0.1px">指挥室/监控中心</div>
<svg class="a" style="left:0;top:0" width="914" height="436" viewBox="0 0 914 436">
<defs>
<radialGradient id="scr" cx=".5" cy=".5" r=".6"><stop offset="0" stop-color="#3c78e4"/><stop offset=".6" stop-color="#2452c8"/><stop offset="1" stop-color="#1a3aa8"/></radialGradient>
<filter id="ds" x="-5%" y="-50%" width="110%" height="200%"><feDropShadow dx="0" dy="2" stdDeviation="1.2" flood-color="#000" flood-opacity=".22"/></filter>
<linearGradient id="cg" gradientUnits="userSpaceOnUse" x1="0" y1="155" x2="0" y2="236"><stop offset="0" stop-color="#02b8f6"/><stop offset=".5" stop-color="#0a8df0"/><stop offset="1" stop-color="#0a5ce0"/></linearGradient>
</defs>

<clipPath id="cc"><rect x="370" y="150" width="190" height="85.5"/></clipPath>
<g fill="url(#cg)" clip-path="url(#cc)"><circle cx="407" cy="211" r="25.2"/><circle cx="421.5" cy="197" r="24.5"/><ellipse cx="476" cy="192.2" rx="42" ry="37"/><circle cx="521" cy="212.3" r="23.6"/><rect x="400" y="192" width="124" height="44"/></g>
<line x1="471.5" y1="235" x2="471.5" y2="287" stroke="#0a6cc0" stroke-width="2.5"/>
<line x1="170.0" y1="292" x2="170.0" y2="308" stroke="#bcbcbc" stroke-width="1.5" stroke-dasharray="3 2"/><line x1="210.2" y1="292" x2="210.2" y2="308" stroke="#bcbcbc" stroke-width="1.5" stroke-dasharray="3 2"/><line x1="250.3" y1="292" x2="250.3" y2="308" stroke="#bcbcbc" stroke-width="1.5" stroke-dasharray="3 2"/><line x1="290.5" y1="292" x2="290.5" y2="308" stroke="#bcbcbc" stroke-width="1.5" stroke-dasharray="3 2"/><line x1="330.7" y1="292" x2="330.7" y2="308" stroke="#bcbcbc" stroke-width="1.5" stroke-dasharray="3 2"/><line x1="370.9" y1="292" x2="370.9" y2="308" stroke="#bcbcbc" stroke-width="1.5" stroke-dasharray="3 2"/><line x1="411.0" y1="292" x2="411.0" y2="308" stroke="#bcbcbc" stroke-width="1.5" stroke-dasharray="3 2"/><line x1="451.2" y1="292" x2="451.2" y2="308" stroke="#bcbcbc" stroke-width="1.5" stroke-dasharray="3 2"/><line x1="491.4" y1="292" x2="491.4" y2="308" stroke="#bcbcbc" stroke-width="1.5" stroke-dasharray="3 2"/><line x1="531.5" y1="292" x2="531.5" y2="308" stroke="#bcbcbc" stroke-width="1.5" stroke-dasharray="3 2"/><line x1="571.7" y1="292" x2="571.7" y2="308" stroke="#bcbcbc" stroke-width="1.5" stroke-dasharray="3 2"/><line x1="611.9" y1="292" x2="611.9" y2="308" stroke="#bcbcbc" stroke-width="1.5" stroke-dasharray="3 2"/><line x1="652.0" y1="292" x2="652.0" y2="308" stroke="#bcbcbc" stroke-width="1.5" stroke-dasharray="3 2"/><line x1="692.2" y1="292" x2="692.2" y2="308" stroke="#bcbcbc" stroke-width="1.5" stroke-dasharray="3 2"/><line x1="732.4" y1="292" x2="732.4" y2="308" stroke="#bcbcbc" stroke-width="1.5" stroke-dasharray="3 2"/>
<g filter="url(#ds)"><line x1="170" y1="286.2" x2="733" y2="286.2" stroke="#0a6ac4" stroke-width="3"/>
<circle cx="170.0" cy="286.2" r="5.4" fill="#0b68c0"/><circle cx="210.2" cy="286.2" r="5.4" fill="#12a8ec"/><circle cx="250.3" cy="286.2" r="5.4" fill="#0b68c0"/><circle cx="290.5" cy="286.2" r="5.4" fill="#12a8ec"/><circle cx="330.7" cy="286.2" r="5.4" fill="#0b68c0"/><circle cx="370.9" cy="286.2" r="5.4" fill="#12a8ec"/><circle cx="411.0" cy="286.2" r="5.4" fill="#0b68c0"/><circle cx="451.2" cy="286.2" r="5.4" fill="#12a8ec"/><circle cx="491.4" cy="286.2" r="5.4" fill="#0b68c0"/><circle cx="531.5" cy="286.2" r="5.4" fill="#12a8ec"/><circle cx="571.7" cy="286.2" r="5.4" fill="#0b68c0"/><circle cx="611.9" cy="286.2" r="5.4" fill="#12a8ec"/><circle cx="652.0" cy="286.2" r="5.4" fill="#0b68c0"/><circle cx="692.2" cy="286.2" r="5.4" fill="#12a8ec"/><circle cx="732.4" cy="286.2" r="5.4" fill="#0b68c0"/></g>
</svg>
<div class="a" style="left:394.5px;top:205.5px;font-size:15px;line-height:16px;font-weight:bold;color:#fff;white-space:nowrap;letter-spacing:0.2px;-webkit-text-stroke:0.15px #fff;text-shadow:0 1px 1px rgba(0,40,120,.35)">智慧云平台酒店广播</div>
<div class="box d" style="left:156.0px"><div style="top:33px">定<br>时<br>打<br>铃</div></div>
<div class="box l" style="left:196.2px"><div style="top:11.5px">背<br>景<br>音<br>乐<br>播<br>放</div></div>
<div class="box d" style="left:236.3px"><div style="top:33px">文<br>本<br>广<br>播</div></div>
<div class="box l" style="left:276.5px"><div style="top:11.5px">紧<br>急<br>广<br>播<br>备<br>份</div></div>
<div class="box d" style="left:316.7px"><div style="top:33px">实<br>时<br>采<br>播</div></div>
<div class="box l" style="left:356.9px"><div style="top:11.5px">全<br>区<br>分<br>区<br>点<br>播</div></div>
<div class="box d" style="left:397.0px"><div style="top:33px">紧<br>急<br>求<br>助</div></div>
<div class="box l" style="left:437.2px"><div style="top:11.5px">多<br>级<br>账<br>号<br>管<br>理</div></div>
<div class="box d" style="left:477.4px"><div style="top:33px">广<br>播<br>喊<br>话</div></div>
<div class="box l" style="left:517.5px"><div style="top:4.5px">BS<br>架<br>构<br>管<br>理<br>管<br>控</div></div>
<div class="box d" style="left:557.7px"><div style="top:11.5px">联<br>动<br>监<br>控<br>广<br>播</div></div>
<div class="box l" style="left:597.9px"><div style="top:11.5px">联<br>动<br>消<br>防<br>报<br>警</div></div>
<div class="box d" style="left:638.0px"><div style="top:11.5px">手<br>机<br>软<br>件<br>广<br>播</div></div>
<div class="box l" style="left:678.2px"><div style="top:11.5px">远<br>程<br>文<br>件<br>上<br>传</div></div>
<div class="box d" style="left:718.4px"><div style="top:11.5px">本<br>地<br>音<br>频<br>采<br>集</div></div><div class="a" style="left:758.5px;top:328.5px;width:16px;font-size:15px;line-height:16.8px;font-weight:bold;color:#fff;text-align:center;-webkit-text-stroke:0.4px #fff;text-shadow:0 0 1.5px rgba(0,0,0,.18)">本<br>地<br>频<br>采<br>集</div>
</body></html>
